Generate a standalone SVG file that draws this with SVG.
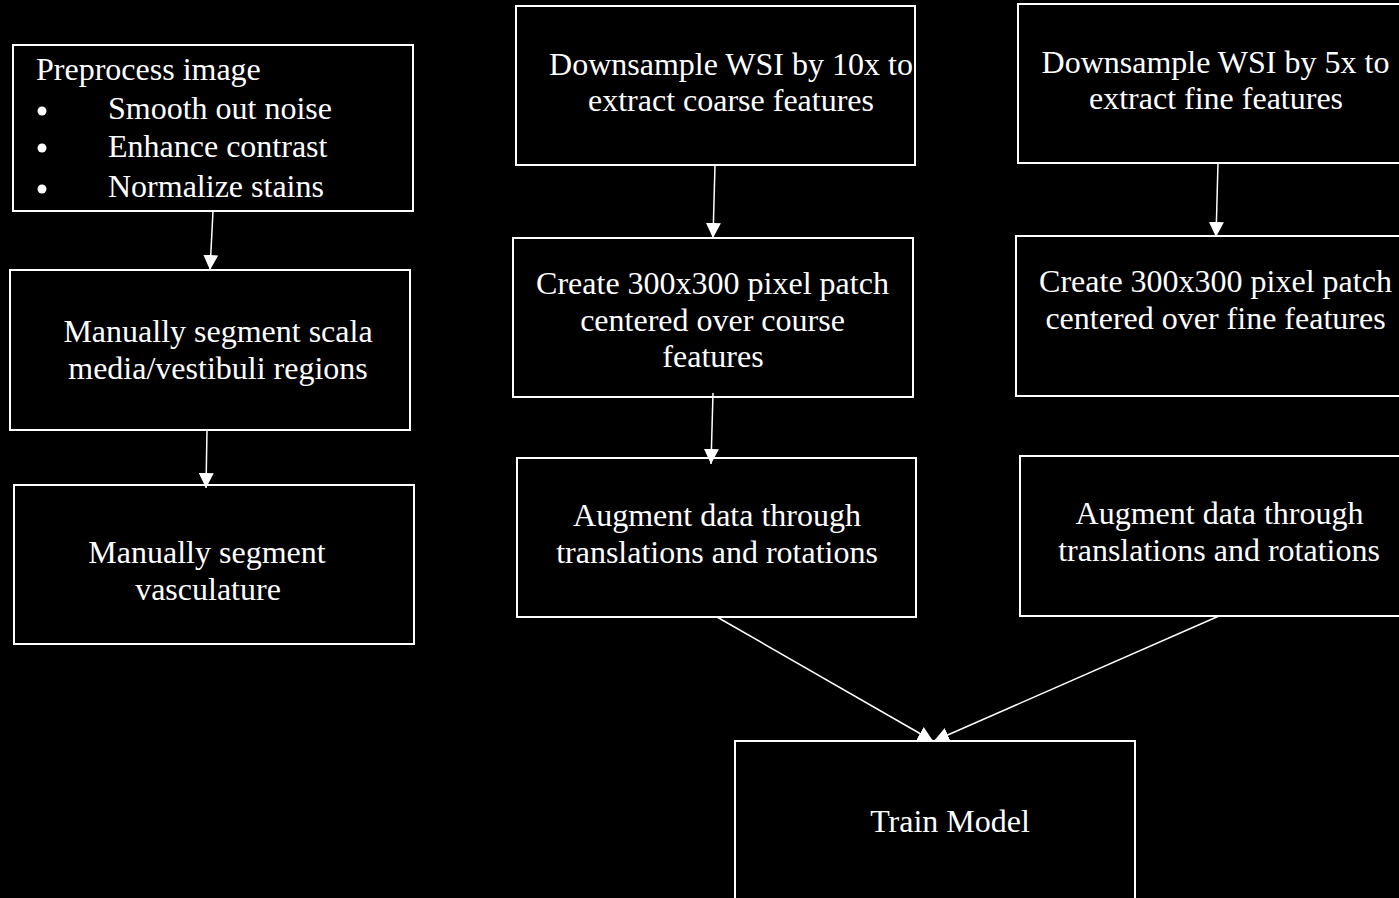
<svg xmlns="http://www.w3.org/2000/svg" width="1399" height="898" viewBox="0 0 1399 898">
  <defs>
    <marker id="arrow" markerUnits="userSpaceOnUse" markerWidth="15" markerHeight="15" refX="15" refY="7.5" orient="auto">
      <path d="M0,0 L15,7.5 L0,15 z" fill="#ffffff"/>
    </marker>
    <style>
      .box { fill: #000000; stroke: #ffffff; stroke-width: 2; }
      .lbl { font-family: "Liberation Serif", "Times New Roman", serif; font-size: 32px; fill: #ffffff; }
      .mid { text-anchor: middle; }
      .conn { stroke: #ffffff; stroke-width: 1.5; fill: none; marker-end: url(#arrow); }
    </style>
  </defs>
  <rect x="0" y="0" width="1399" height="898" fill="#000000"/>

  <g id="preprocess">
    <rect class="box" x="13" y="45" width="400" height="166"/>
    <text class="lbl" x="36" y="80">Preprocess image</text>
    <circle cx="42" cy="111" r="4.5" fill="#ffffff"/>
    <text class="lbl" x="108" y="119">Smooth out noise</text>
    <circle cx="42" cy="148" r="4.5" fill="#ffffff"/>
    <text class="lbl" x="108" y="157">Enhance contrast</text>
    <circle cx="42" cy="189" r="4.5" fill="#ffffff"/>
    <text class="lbl" x="108" y="197">Normalize stains</text>
  </g>

  <g id="segment-scala">
    <rect class="box" x="10" y="270" width="400" height="160"/>
    <text class="lbl mid" x="218" y="342">Manually segment scala</text>
    <text class="lbl mid" x="218" y="379">media/vestibuli regions</text>
  </g>

  <g id="segment-vasculature">
    <rect class="box" x="14" y="485" width="400" height="159"/>
    <text class="lbl mid" x="207" y="563">Manually segment</text>
    <text class="lbl mid" x="208" y="600">vasculature</text>
  </g>

  <g id="downsample-10x">
    <rect class="box" x="516" y="6" width="399" height="159"/>
    <text class="lbl mid" x="731" y="75">Downsample WSI by 10x to</text>
    <text class="lbl mid" x="731" y="111">extract coarse features</text>
  </g>

  <g id="patch-coarse">
    <rect class="box" x="513" y="238" width="400" height="159"/>
    <text class="lbl mid" x="712.5" y="294">Create 300x300 pixel patch</text>
    <text class="lbl mid" x="712.5" y="331">centered over course</text>
    <text class="lbl mid" x="713" y="367">features</text>
  </g>

  <g id="augment-coarse">
    <rect class="box" x="517" y="458" width="399" height="159"/>
    <text class="lbl mid" x="717" y="526">Augment data through</text>
    <text class="lbl mid" x="717" y="563">translations and rotations</text>
  </g>

  <g id="downsample-5x">
    <rect class="box" x="1018" y="4" width="400" height="159"/>
    <text class="lbl mid" x="1215.5" y="73">Downsample WSI by 5x to</text>
    <text class="lbl mid" x="1216" y="109">extract fine features</text>
  </g>

  <g id="patch-fine">
    <rect class="box" x="1016" y="236" width="400" height="160"/>
    <text class="lbl mid" x="1215.5" y="292">Create 300x300 pixel patch</text>
    <text class="lbl mid" x="1215.5" y="329">centered over fine features</text>
  </g>

  <g id="augment-fine">
    <rect class="box" x="1020" y="456" width="400" height="160"/>
    <text class="lbl mid" x="1219.5" y="524">Augment data through</text>
    <text class="lbl mid" x="1219" y="561">translations and rotations</text>
  </g>

  <g id="train-model">
    <rect class="box" x="735" y="741" width="400" height="170"/>
    <text class="lbl mid" x="950" y="832">Train Model</text>
  </g>

  <g id="connectors">
    <line class="conn" x1="213" y1="211" x2="210" y2="270"/>
    <line class="conn" x1="207" y1="430" x2="206" y2="488"/>
    <line class="conn" x1="715" y1="165" x2="713" y2="238"/>
    <line class="conn" x1="713" y1="393" x2="711" y2="464"/>
    <line class="conn" x1="1218" y1="163" x2="1216" y2="237"/>
    <line class="conn" x1="717" y1="617" x2="933" y2="741"/>
    <line class="conn" x1="1219" y1="616" x2="934" y2="741"/>
  </g>
</svg>
